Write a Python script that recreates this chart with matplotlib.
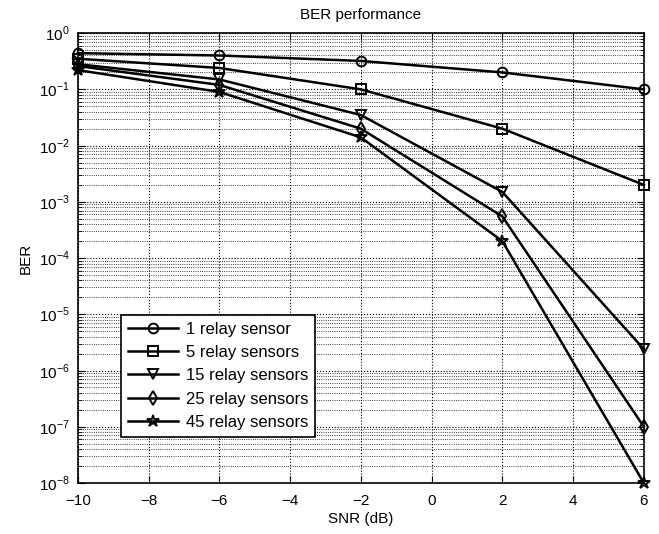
import matplotlib
matplotlib.use('Agg')
import matplotlib.pyplot as plt
from matplotlib.ticker import FixedLocator, NullFormatter

plt.rcParams['font.family'] = ['Liberation Sans', 'DejaVu Sans']
plt.rcParams['mathtext.fontset'] = 'custom'
plt.rcParams['mathtext.rm'] = 'Liberation Sans'

snr = [-10, -6, -2, 2, 6]
ber_1 = [0.44, 0.40, 0.32, 0.20, 0.10]
ber_5 = [0.35, 0.24, 0.10, 0.02, 0.002]
ber_15 = [0.28, 0.15, 0.035, 0.0015, 2.4e-6]
ber_25 = [0.26, 0.12, 0.02, 5.5e-4, 1.0e-7]
ber_45 = [0.22, 0.09, 0.014, 2.0e-4, 1.0e-8]

x_ticks = [-10, -8, -6, -4, -2, 0, 2, 4, 6]
y_exps = [-8, -7, -6, -5, -4, -3, -2, -1, 0]

series = [
    (ber_1, 'o', '1 relay sensor'),
    (ber_5, 's', '5 relay sensors'),
    (ber_15, 'v', '15 relay sensors'),
    (ber_25, 'd', '25 relay sensors'),
    (ber_45, '*', '45 relay sensors'),
]

fig = plt.figure(figsize=(6.59, 5.34), dpi=100)
fig.patch.set_facecolor('white')
ax = fig.add_axes([0.118, 0.0955, 0.859, 0.8425])

for vals, mk, lab in series:
    ax.semilogy(snr, vals, color='black', linewidth=1.8, marker=mk,
                markersize=9 if mk == '*' else 7, markerfacecolor='none',
                markeredgecolor='black', markeredgewidth=1.4, label=lab,
                clip_on=False, zorder=3)

ax.set_xlim(-10, 6)
ax.set_ylim(1e-8, 1e0)
ax.set_xticks(x_ticks)
ax.set_xticklabels([str(v).replace('-', '\u2212') for v in x_ticks])
ax.set_yticks([10.0 ** e for e in y_exps])
ax.set_yticklabels(['$10^{%d}$' % e for e in y_exps])
minor_y = [m * 10.0 ** e for e in y_exps[:-1] for m in range(2, 10)]
ax.yaxis.set_minor_locator(FixedLocator(minor_y))
ax.yaxis.set_minor_formatter(NullFormatter())

ax.grid(True, which='major', linestyle=':', color='black', linewidth=0.8)
ax.yaxis.grid(True, which='minor', linestyle=':', color='black', linewidth=0.6)

ax.tick_params(which='both', direction='in', top=True, right=True, labelsize=11)
ax.tick_params(which='major', length=5)
ax.tick_params(which='minor', length=3)
ax.tick_params(axis='x', pad=8)
ax.tick_params(axis='y', pad=6)
for s in ax.spines.values():
    s.set_linewidth(1.2)

ax.set_title('BER performance', fontsize=11, pad=10)
ax.set_xlabel('SNR (dB)', fontsize=11, labelpad=3)
ax.set_ylabel('BER', fontsize=11, labelpad=4)

leg = ax.legend(loc='upper left', bbox_to_anchor=(0.062, 0.392), fontsize=12,
                fancybox=False, edgecolor='black', framealpha=1.0,
                handlelength=3.0, borderpad=0.4, labelspacing=0.5,
                handletextpad=0.5)
leg.get_frame().set_linewidth(1.2)
leg.set_zorder(5)

fig.savefig('out.png', dpi=100)
